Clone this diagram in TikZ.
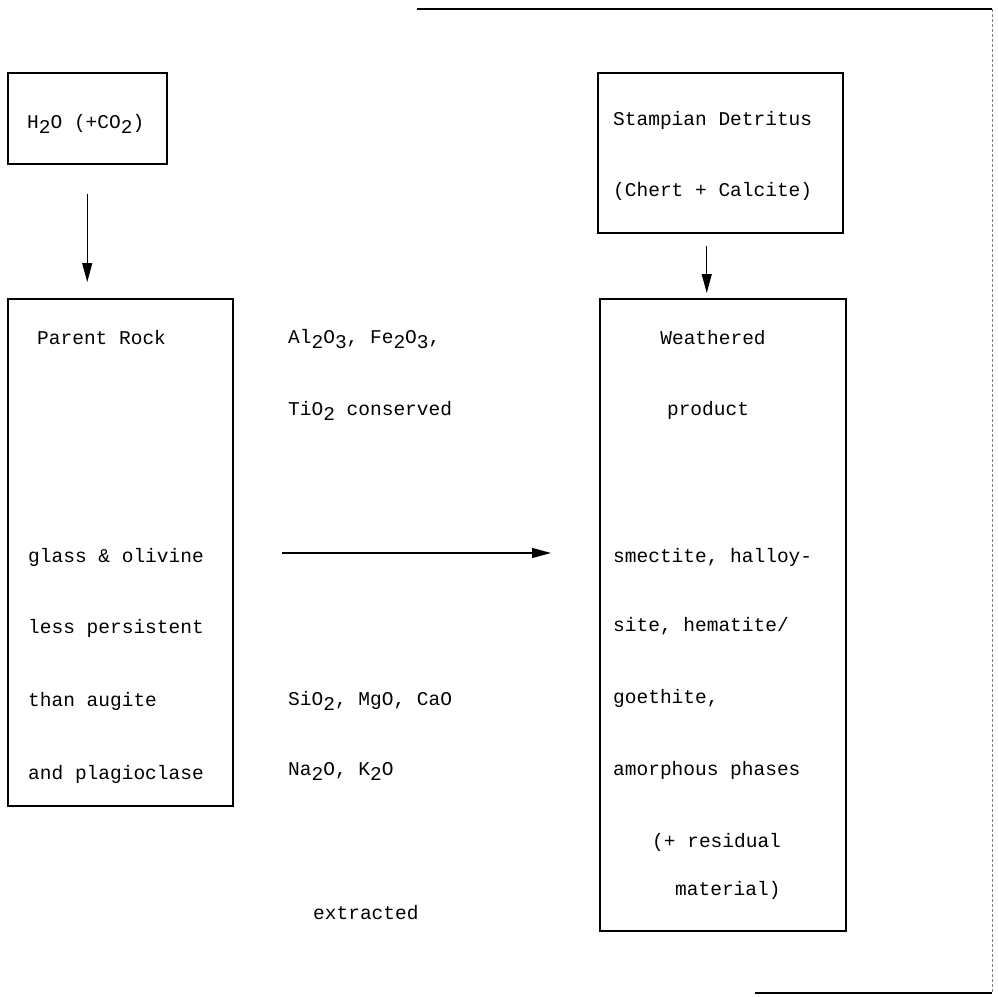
\documentclass[tikz,border=0pt]{standalone}
\usepackage{fontspec}
\setmainfont{Liberation Mono}
\usetikzlibrary{arrows.meta}
\newcommand\sbs[1]{\raisebox{-0.55ex}{#1}}
\begin{document}
\begin{tikzpicture}[x=1pt,y=-1pt,
  every node/.style={font=\fontsize{19.5}{23}\selectfont, inner sep=0pt},
  boxnode/.style={draw, line width=1.5pt, anchor=north west},
  txt/.style={anchor=base west},
  ctxt/.style={anchor=base},
  arr/.style={line width=1.2pt, -{Triangle[length=19pt,width=10pt]}},
  frame/.style={line width=1.8pt},
  thinframe/.style={line width=0.8pt, densely dashed, gray}]
\useasboundingbox (0,0) rectangle (998,996);
% boxes
\node[boxnode, minimum width=159pt, minimum height=91pt] (h2o) at (7,72) {};
\node[boxnode, minimum width=225pt, minimum height=507pt] (parent) at (7,298) {};
\node[boxnode, minimum width=245pt, minimum height=160pt] (stamp) at (597,72) {};
\node[boxnode, minimum width=246pt, minimum height=632pt] (weath) at (599,298) {};
% texts
\node[txt] (t1) at (27,128) {H\sbs{2}O (+CO\sbs{2})};
\node[txt] (t2) at (613,125) {Stampian Detritus};
\node[txt] (t3) at (613,196) {(Chert + Calcite)};
\node[txt] (t4) at (37,344) {Parent Rock};
\node[txt] (t5) at (28,562) {glass \& olivine};
\node[txt] (t6) at (28,633) {less persistent};
\node[txt] (t7) at (28,706) {than augite};
\node[txt] (t8) at (28,779) {and plagioclase};
\node[txt] (t9) at (288,343) {Al\sbs{2}O\sbs{3}, Fe\sbs{2}O\sbs{3},};
\node[txt] (t10) at (288,415) {TiO\sbs{2} conserved};
\node[txt] (t11) at (288,705) {SiO\sbs{2}, MgO, CaO};
\node[txt] (t12) at (288,775) {Na\sbs{2}O, K\sbs{2}O};
\node[txt] (t13) at (313,919) {extracted};
\node[ctxt] (t14) at (713,344) {Weathered};
\node[ctxt] (t15) at (708,415) {product};
\node[txt] (t16) at (613,562) {smectite, halloy-};
\node[txt] (t17) at (613,631) {site, hematite/};
\node[txt] (t18) at (613,703) {goethite,};
\node[txt] (t19) at (613,775) {amorphous phases};
\node[txt] (t20) at (652,847) {(+ residual};
\node[txt] (t21) at (675,895) {material)};
% connectors
\draw[arr, shorten <=29pt, shorten >=16pt] (h2o.south) -- (h2o.south |- parent.north);
\draw[arr, shorten <=12pt, shorten >=5pt] ([xshift=-13.5pt]stamp.south) -- ([xshift=-13.5pt]stamp.south |- weath.north);
\coordinate (ha) at (282,553);
\coordinate (hb) at (551,553);
\draw[arr] (ha) -- (hb);
% frame lines
\coordinate (f1) at (417,9);
\coordinate (f2) at (992,9);
\coordinate (f3) at (992,993);
\coordinate (f4) at (755,993);
\draw[frame] (f1) -- (f2);
\draw[thinframe] (f2) -- (f3);
\draw[frame] (f4) -- (f3);
\end{tikzpicture}
\end{document}
